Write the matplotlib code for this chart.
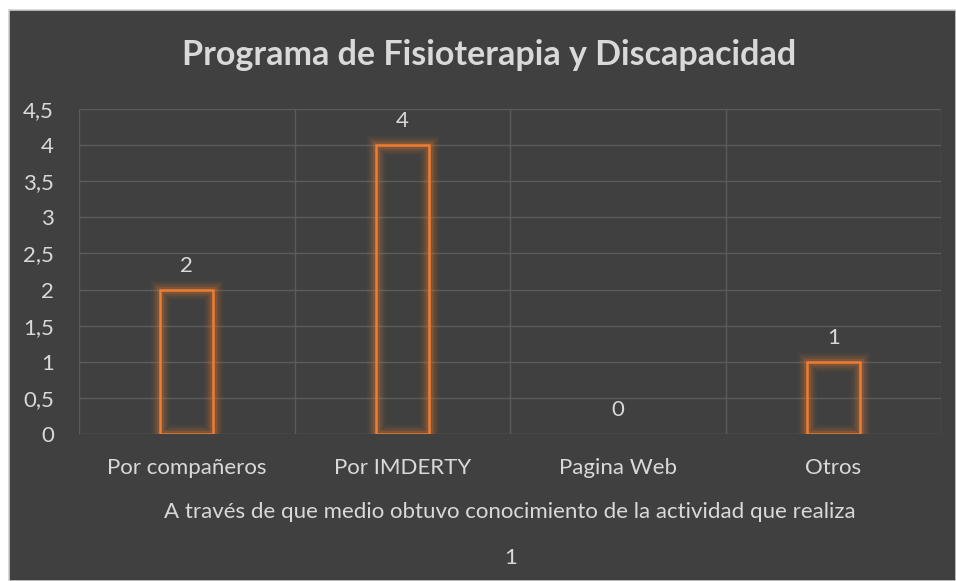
import matplotlib
matplotlib.use("Agg")
import matplotlib.pyplot as plt
import matplotlib.patheffects as pe
from matplotlib.patches import Rectangle

categories = ["Por compañeros", "Por IMDERTY", "Pagina Web", "Otros"]
values = [2, 4, 0, 1]
yticks = [0, 0.5, 1, 1.5, 2, 2.5, 3, 3.5, 4, 4.5]
title = "Programa de Fisioterapia y Discapacidad"
xlabel = "A través de que medio obtuvo conocimiento de la actividad que realiza"
series_name = "1"

FONT = ["Lato", "DejaVu Sans"]
plt.rcParams["font.family"] = FONT
BG = "#404040"
TXT = "#d9d9d9"
ORANGE = "#ed7d31"
GRID = "#5a5a5a"
FS = 16

W, H = 956, 581
fig = plt.figure(figsize=(W / 100, H / 100), dpi=100, facecolor="white")
bgrect = Rectangle((9 / W, 0), 1 - 9 / W, 1 - 10 / H, transform=fig.transFigure,
                   facecolor=BG, edgecolor="#d0d0d0", linewidth=1.2, zorder=-10)
fig.add_artist(bgrect)

ax = fig.add_axes([79 / W, 1 - 434 / H, (941 - 79) / W, (434 - 109) / H])
ax.patch.set_alpha(0)
ax.set_xlim(-0.5, len(categories) - 0.5)
ax.set_ylim(0, 4.5)
for s in ax.spines.values():
    s.set_visible(False)

for y in yticks:
    ax.axhline(y, color=GRID, lw=1, zorder=1)
for i in range(len(categories) + 1):
    ax.axvline(i - 0.5, color=GRID, lw=1, zorder=1)

x = list(range(len(categories)))
bars = ax.bar(x, values, width=0.245, facecolor="none", edgecolor=ORANGE, linewidth=1.8, zorder=3)
for b, v in zip(bars, values):
    if v == 0:
        b.set_visible(False)
        continue
    b.set_path_effects([
        pe.Stroke(linewidth=14, foreground=ORANGE, alpha=0.05),
        pe.Stroke(linewidth=11, foreground=ORANGE, alpha=0.08),
        pe.Stroke(linewidth=8, foreground=ORANGE, alpha=0.12),
        pe.Stroke(linewidth=5, foreground=ORANGE, alpha=0.18),
        pe.Normal(),
    ])

for xi, v in zip(x, values):
    ax.annotate(str(v), (xi, v), xytext=(0, 10), textcoords="offset points",
                ha="center", va="bottom", color=TXT, fontsize=FS)

ax.set_yticks(yticks)
ax.set_yticklabels([("%g" % v).replace(".", ",") for v in yticks])
ax.set_xticks(x)
ax.set_xticklabels(categories)
ax.tick_params(axis="y", length=0, pad=18, colors=TXT, labelsize=FS)
ax.tick_params(axis="x", length=0, pad=17, colors=TXT, labelsize=FS)

fig.text(489 / W, 1 - 55 / H, title, ha="center", va="center", color=TXT,
         fontsize=24.5, fontweight="bold")
fig.text(510 / W, 1 - 512 / H, xlabel, ha="center", va="center", color=TXT, fontsize=FS)
fig.text(511 / W, 1 - 558 / H, series_name, ha="center", va="center", color=TXT, fontsize=FS)

fig.savefig("out.png", dpi=100, facecolor="white")
